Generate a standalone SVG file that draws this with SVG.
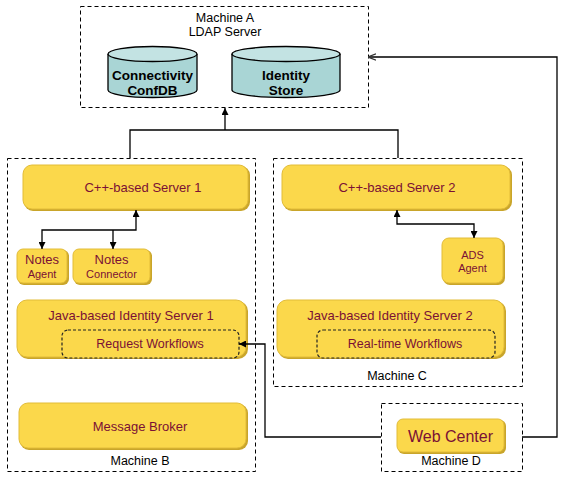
<svg xmlns="http://www.w3.org/2000/svg" width="566" height="477" viewBox="0 0 566 477">
<defs>
<style>
.mach{fill:none;stroke:#000;stroke-width:1;stroke-dasharray:4,3}
.node{fill:#FBD84B;stroke:#E2BC38;stroke-width:1}
.shadow{fill:#C9A52A}
.wf{fill:#FBD84B;stroke:#222;stroke-width:1.2;stroke-dasharray:3,2}
.t{font-family:"Liberation Sans",Arial,sans-serif;font-size:13px;fill:#7A1035;text-anchor:middle}
.ts{font-family:"Liberation Sans",Arial,sans-serif;font-size:11px;fill:#7A1035;text-anchor:middle}
.m{font-family:"Liberation Sans",Arial,sans-serif;font-size:12.5px;fill:#000;text-anchor:middle}
.db{font-family:"Liberation Sans",Arial,sans-serif;font-size:13.5px;font-weight:bold;fill:#000;text-anchor:middle}
.cyl{fill:#A9D5D5;stroke:#000;stroke-width:1.3}
.cyltop{fill:#C3E3E3;stroke:#000;stroke-width:1.3}
.c{fill:none;stroke:#000;stroke-width:1.3}
</style>
<marker id="ah" viewBox="0 0 10 10" refX="10" refY="5" markerWidth="7" markerHeight="7" orient="auto-start-reverse" markerUnits="userSpaceOnUse">
<path d="M0,0 L10,5 L0,10 z" fill="#000"/>
</marker>
<marker id="oa" viewBox="0 0 10 10" refX="10" refY="5" markerWidth="8" markerHeight="8" orient="auto" markerUnits="userSpaceOnUse">
<path d="M0,1 L10,5 L0,9" fill="none" stroke="#333" stroke-width="1.5"/>
</marker>
</defs>

<g id="machineA">
<rect class="mach" x="80.5" y="6.5" width="288" height="101"/>
<text class="m" x="225" y="22">Machine A</text>
<text class="m" x="225" y="36">LDAP Server</text>
</g>
<g id="connectivityDB">
<path class="cyl" d="M108,54 L108,90 A44.5,7.5 0 0 0 197,90 L197,54"/>
<ellipse class="cyltop" cx="152.5" cy="54" rx="44.5" ry="7.5"/>
<text class="db" x="152.5" y="80">Connectivity</text>
<text class="db" x="152.5" y="95">ConfDB</text>
</g>
<g id="identityStore">
<path class="cyl" d="M232,54 L232,90 A54,7.5 0 0 0 340,90 L340,54"/>
<ellipse class="cyltop" cx="286" cy="54" rx="54" ry="7.5"/>
<text class="db" x="286" y="80">Identity</text>
<text class="db" x="286" y="95">Store</text>
</g>

<g id="machineB">
<rect class="mach" x="7.5" y="158.5" width="248" height="313"/>
<text class="m" x="140" y="465">Machine B</text>
</g>
<g id="machineC">
<rect class="mach" x="273.5" y="158.5" width="249" height="228"/>
<text class="m" x="397" y="380">Machine C</text>
</g>
<g id="machineD">
<rect class="mach" x="381.5" y="403.5" width="141" height="68"/>
<text class="m" x="451" y="465">Machine D</text>
</g>

<g id="cppServer1">
<rect class="shadow" x="24" y="166" width="226" height="45" rx="9"/>
<rect class="node" x="23" y="165" width="225" height="44" rx="9"/>
<text class="t" x="143" y="192">C++-based Server  1</text>
</g>
<g id="notesAgent">
<rect class="shadow" x="18" y="250" width="51" height="35" rx="6"/>
<rect class="node" x="17" y="249" width="50" height="34" rx="6"/>
<text class="t" x="42" y="264">Notes</text>
<text class="ts" x="42" y="278">Agent</text>
</g>
<g id="notesConnector">
<rect class="shadow" x="74" y="250" width="78" height="35" rx="6"/>
<rect class="node" x="73" y="249" width="77" height="34" rx="6"/>
<text class="t" x="111.5" y="264">Notes</text>
<text class="ts" x="111.5" y="278">Connector</text>
</g>
<g id="cppServer2">
<rect class="shadow" x="283" y="166" width="229" height="45" rx="9"/>
<rect class="node" x="282" y="165" width="228" height="44" rx="9"/>
<text class="t" x="397" y="192">C++-based Server  2</text>
</g>
<g id="adsAgent">
<rect class="shadow" x="443" y="239" width="62" height="46" rx="7"/>
<rect class="node" x="442" y="238" width="61" height="45" rx="7"/>
<text class="ts" x="472.5" y="259">ADS</text>
<text class="ts" x="472.5" y="272">Agent</text>
</g>
<g id="javaServer1">
<rect class="shadow" x="18" y="301" width="230" height="58" rx="10"/>
<rect class="node" x="17" y="300" width="229" height="57" rx="10"/>
<text class="t" x="131" y="320">Java-based  Identity Server  1</text>
</g>
<g id="requestWorkflows">
<rect class="wf" x="62" y="330" width="177" height="28" rx="6"/>
<text class="t" x="150" y="348" style="font-size:12.5px">Request Workflows</text>
</g>
<g id="messageBroker">
<rect class="shadow" x="20" y="404" width="228" height="46" rx="9"/>
<rect class="node" x="19" y="403" width="227" height="45" rx="9"/>
<text class="t" x="140" y="431">Message Broker</text>
</g>
<g id="javaServer2">
<rect class="shadow" x="278" y="301" width="228" height="58" rx="10"/>
<rect class="node" x="277" y="300" width="227" height="57" rx="10"/>
<text class="t" x="390" y="320">Java-based  Identity Server  2</text>
</g>
<g id="realtimeWorkflows">
<rect class="wf" x="317" y="330" width="178" height="28" rx="6"/>
<text class="t" x="405" y="348" style="font-size:12.5px">Real-time Workflows</text>
</g>
<g id="webCenter">
<rect class="shadow" x="398" y="420" width="108" height="34" rx="6"/>
<rect class="node" x="397" y="419" width="107" height="33" rx="6"/>
<text class="t" x="450.5" y="442" style="font-size:16px">Web Center</text>
</g>

<g id="connectors">
<polyline class="c" points="130,158 130,130 398,130 398,158"/>
<line class="c" x1="225" y1="130" x2="225" y2="108" marker-end="url(#ah)"/>
<polyline class="c" points="136,210 136,230 42,230 42,249" marker-start="url(#ah)" marker-end="url(#ah)"/>
<line class="c" x1="113" y1="230" x2="113" y2="249" marker-end="url(#ah)"/>
<polyline class="c" points="397,210 397,224 474,224 474,238" marker-start="url(#ah)" marker-end="url(#ah)"/>
<polyline class="c" points="381,437 265,437 265,344 239,344" marker-end="url(#ah)"/>
<polyline class="c" points="522,437 557,437 557,57 368,57" marker-end="url(#oa)"/>
</g>
</svg>
